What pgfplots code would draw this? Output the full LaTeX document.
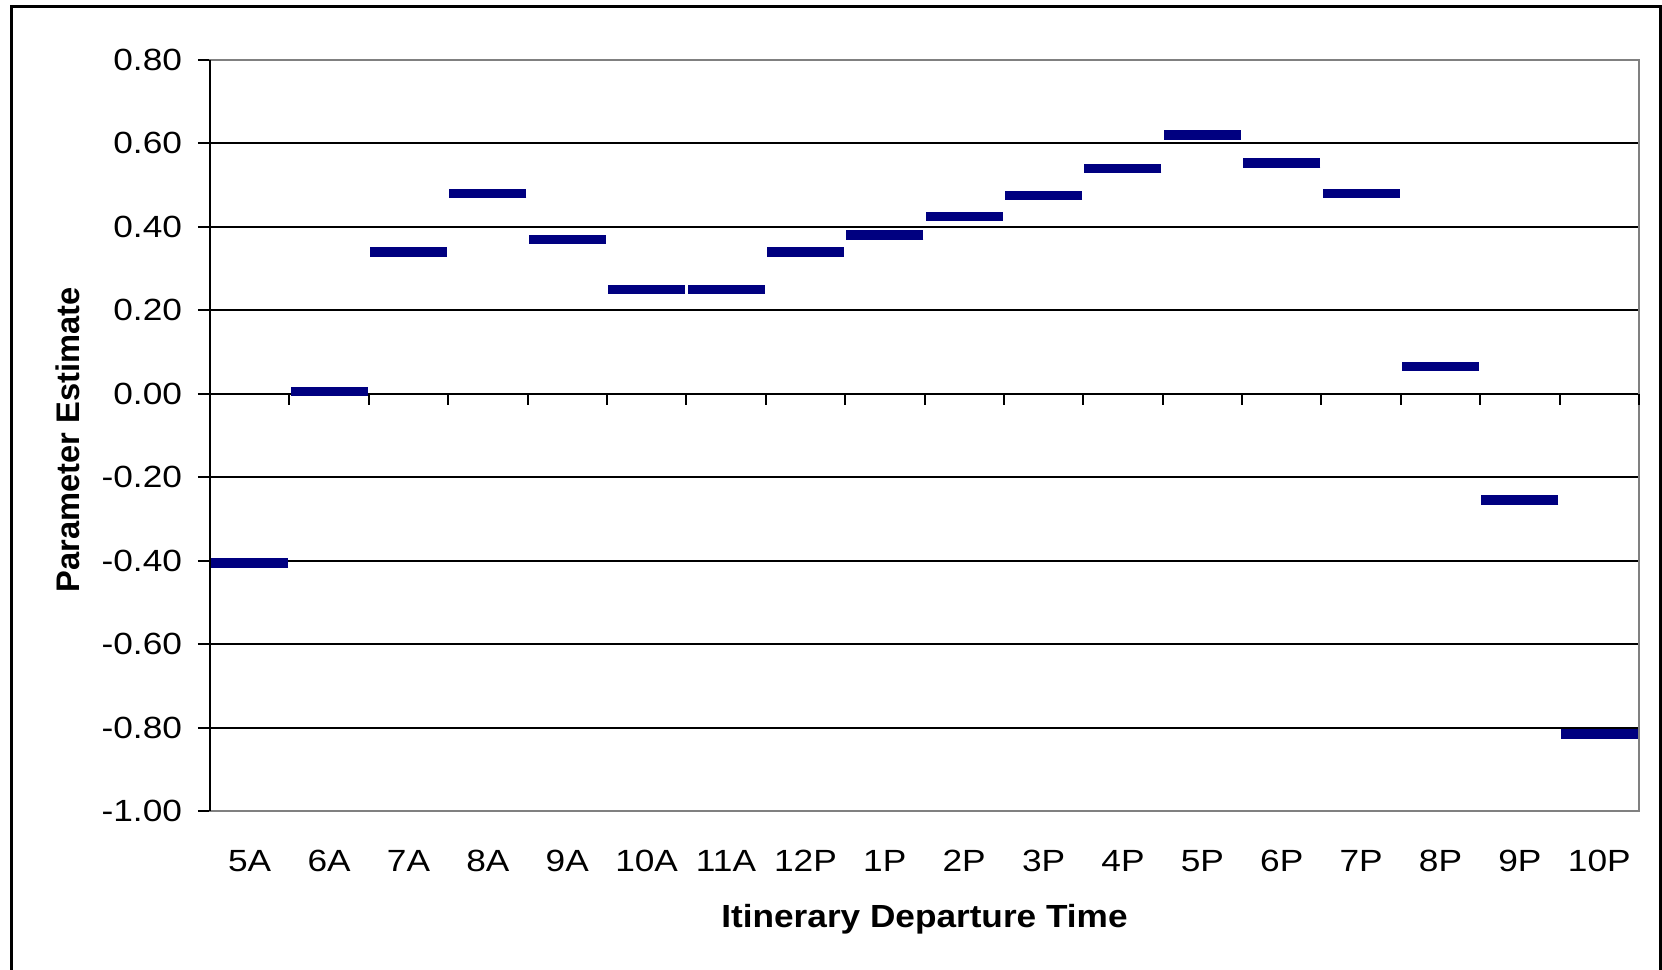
\documentclass[border=0pt]{standalone}
\usepackage{pgfplots}
\usepackage{pgfplotstable}
\pgfplotsset{compat=1.18}
\usepackage{fontspec}
\setmainfont{Liberation Sans}[FakeStretch=1.15, BoldFeatures={FakeStretch=1.1}]
\newfontfamily\uprightlabel{Liberation Sans}

\definecolor{excelnavy}{RGB}{0,0,128}
\definecolor{bordergray}{RGB}{128,128,128}

% Parameter estimate for each itinerary departure hour (0 = 5A ... 17 = 10P)
\pgfplotstableread{
idx est
0  -0.405
1   0.005
2   0.34
3   0.48
4   0.37
5   0.25
6   0.25
7   0.34
8   0.38
9   0.425
10  0.475
11  0.54
12  0.62
13  0.553
14  0.48
15  0.065
16 -0.255
17 -0.815
}\estimates

\begin{document}
\begin{tikzpicture}[x=1pt,y=1pt]
\useasboundingbox (0,0) rectangle (498.6,-291);
% chart frame (open at the bottom)
\draw[line width=0.9pt] (3.5,-292) -- (3.5,-2.0) -- (498.1,-2.0) -- (498.1,-292);
\begin{axis}[
  at={(63pt,-243.3pt)}, anchor=south west,
  scale only axis, width=428.7pt, height=225.3pt,
  xmin=-0.5, xmax=17.5, ymin=-1, ymax=0.8,
  clip=false,
  axis line style={draw=bordergray, line width=0.6pt},
  xtick={0,1,2,3,4,5,6,7,8,9,10,11,12,13,14,15,16,17},
  xticklabels={5A,6A,7A,8A,9A,10A,11A,12P,1P,2P,3P,4P,5P,6P,7P,8P,9P,10P},
  major x tick style={draw=none},
  ytick={-1,-0.8,-0.6,-0.4,-0.2,0,0.2,0.4,0.6,0.8},
  yticklabels={-1.00,-0.80,-0.60,-0.40,-0.20,0.00,0.20,0.40,0.60,0.80},
  ytick pos=left,
  tick align=outside,
  major tick length=3.6pt,
  major y tick style={black, line width=0.6pt},
  ymajorgrids,
  major grid style={black, line width=0.6pt},
  tick label style={font=\fontsize{9.2}{11}\selectfont},
  yticklabel style={inner sep=0pt, xshift=-4.6pt},
  xticklabel style={anchor=center, inner sep=0pt, yshift=-11.3pt},
  xlabel={Itinerary Departure Time},
  ylabel={Parameter Estimate},
  every axis x label/.style={at={(axis description cs:0.5,-0.1445)}, anchor=center,
    font=\bfseries\fontsize{9.6}{11}\selectfont},
  every axis y label/.style={at={(axis description cs:-0.0994,0.494)}, rotate=90, anchor=center,
    font=\uprightlabel\bfseries\fontsize{9.8}{11}\selectfont},
]
% value axis drawn in black over the plot-area border
\draw[black, line width=0.6pt] (axis cs:-0.5,-1) -- (axis cs:-0.5,0.8);
% category boundary ticks on the zero line
\pgfplotsinvokeforeach{0.5,1.5,2.5,3.5,4.5,5.5,6.5,7.5,8.5,9.5,10.5,11.5,12.5,13.5,14.5,15.5,16.5,17.5}{
  \draw[black, line width=0.6pt] (axis cs:#1,0) -- ([yshift=-3.3pt]axis cs:#1,0);
}
\addplot[only marks, mark=-, mark size=11.55pt,
  mark options={draw=excelnavy, line width=2.85pt}]
  table[x=idx, y=est] {\estimates};
\end{axis}
\end{tikzpicture}
\end{document}
